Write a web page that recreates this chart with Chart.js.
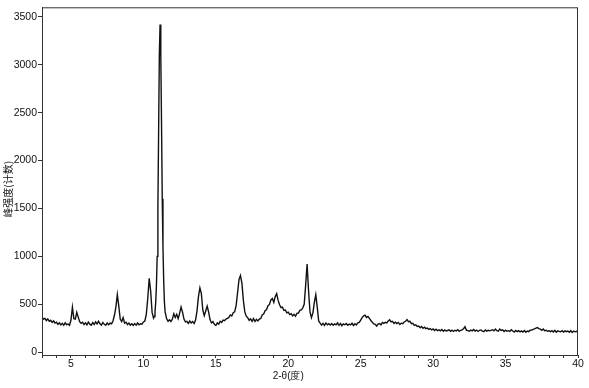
<!DOCTYPE html>
<html><head><meta charset="utf-8">
<script src="https://cdn.jsdelivr.net/npm/chart.js@4/dist/chart.umd.min.js"></script>
<style>html,body{margin:0;padding:0;background:#fff}#wrap{width:589px;height:388px}</style>
</head><body><div id="wrap"><canvas id="c" width="589" height="388"></canvas></div>
<script>
const twoTheta = [
3.0,3.1,3.2,3.3,3.4,3.5,3.6,3.7,3.8,3.9,
4.0,4.1,4.2,4.3,4.4,4.5,4.6,4.7,4.8,4.9,
5.0,5.1,5.2,5.3,5.4,5.5,5.6,5.7,5.8,5.9,
6.0,6.1,6.2,6.3,6.4,6.5,6.6,6.7,6.8,6.9,
7.0,7.1,7.2,7.3,7.4,7.5,7.6,7.7,7.8,7.9,
8.0,8.1,8.2,8.3,8.4,8.5,8.6,8.7,8.8,8.9,
9.0,9.1,9.2,9.3,9.4,9.5,9.6,9.7,9.8,9.9,
10.0,10.1,10.2,10.3,10.4,10.5,10.6,10.7,
10.75,10.8,10.85,10.9,10.95,11.0,11.05,11.1,11.15,11.2,11.25,11.3,11.35,11.4,11.45,11.5,
11.6,11.7,11.8,11.9,
12.0,12.1,12.2,12.3,12.4,12.5,12.6,12.7,12.8,12.9,
13.0,13.1,13.2,13.3,13.4,13.5,13.6,13.7,13.8,13.9,
14.0,14.1,14.2,14.3,14.4,14.5,14.6,14.7,14.8,14.9,
15.0,15.1,15.2,15.3,15.4,15.5,15.6,15.7,15.8,15.9,
16.0,16.1,16.2,16.3,16.4,16.5,16.6,16.7,16.8,16.9,
17.0,17.1,17.2,17.3,17.4,17.5,17.6,17.7,17.8,17.9,
18.0,18.1,18.2,18.3,18.4,18.5,18.6,18.7,18.8,18.9,
19.0,19.1,19.2,19.3,19.4,19.5,19.6,19.7,19.8,19.9,
20.0,20.1,20.2,20.3,20.4,20.5,20.6,20.7,20.8,20.9,
21.0,21.1,21.2,21.3,21.4,21.5,21.6,21.7,21.8,21.9,
22.0,22.1,22.2,22.3,22.4,22.5,22.6,22.7,22.8,22.9,
23.0,23.1,23.2,23.3,23.4,23.5,23.6,23.7,23.8,23.9,
24.0,24.1,24.2,24.3,24.4,24.5,24.6,24.7,24.8,24.9,
25.0,25.1,25.2,25.3,25.4,25.5,25.6,25.7,25.8,25.9,
26.0,26.1,26.2,26.3,26.4,26.5,26.6,26.7,26.8,26.9,
27.0,27.1,27.2,27.3,27.4,27.5,27.6,27.7,27.8,27.9,
28.0,28.1,28.2,28.3,28.4,28.5,28.6,28.7,28.8,28.9,
29.0,29.1,29.2,29.3,29.4,29.5,29.6,29.7,29.8,29.9,
30.0,30.1,30.2,30.3,30.4,30.5,30.6,30.7,30.8,30.9,
31.0,31.1,31.2,31.3,31.4,31.5,31.6,31.7,31.8,31.9,
32.0,32.1,32.2,32.3,32.4,32.5,32.6,32.7,32.8,32.9,
33.0,33.1,33.2,33.3,33.4,33.5,33.6,33.7,33.8,33.9,
34.0,34.1,34.2,34.3,34.4,34.5,34.6,34.7,34.8,34.9,
35.0,35.1,35.2,35.3,35.4,35.5,35.6,35.7,35.8,35.9,
36.0,36.1,36.2,36.3,36.4,36.5,36.6,36.7,36.8,36.9,
37.0,37.1,37.2,37.3,37.4,37.5,37.6,37.7,37.8,37.9,
38.0,38.1,38.2,38.3,38.4,38.5,38.6,38.7,38.8,38.9,
39.0,39.1,39.2,39.3,39.4,39.5,39.6,39.7,39.8,39.9,
40.0
];
const counts = [
368,345,352,330,346,322,332,310,326,304,
312,290,306,284,300,280,306,286,292,280,
335,470,350,345,415,365,318,300,312,288,
306,284,314,292,280,308,288,316,294,322,
296,282,310,290,280,304,286,302,296,325,
385,470,600,480,345,318,360,302,312,288,
304,282,296,278,298,282,304,286,296,292,
315,325,395,560,770,640,415,355,
372,420,520,700,1000,1500,2300,3100,3420,3100,2400,1600,1100,750,520,420,
350,322,338,320,
345,400,362,395,350,405,470,418,345,315,
322,300,325,305,320,298,335,430,580,670,
610,440,380,430,480,420,340,305,318,290,
278,305,292,322,310,335,328,345,352,362,
388,378,412,420,485,620,760,800,720,540,
420,375,360,332,348,322,350,320,342,325,
345,352,388,398,432,445,485,498,545,560,
520,580,610,540,495,465,470,435,440,410,
418,392,402,378,395,375,405,408,436,440,
462,500,700,920,640,420,360,410,520,600,
470,325,302,282,300,278,305,285,296,282,
298,280,294,285,306,280,300,276,295,286,
298,280,292,284,302,278,296,284,305,310,
335,360,378,385,362,372,352,330,312,295,
290,272,292,298,285,310,300,312,306,325,
338,315,322,300,312,298,310,288,302,296,
315,322,340,318,322,298,302,280,285,268,
272,255,268,248,260,246,252,238,246,232,
242,226,240,224,232,222,236,218,232,220,
226,232,218,230,216,228,222,235,218,228,
232,245,265,228,224,218,230,222,236,220,
230,216,228,232,220,214,232,220,228,222,
228,234,222,240,224,218,240,226,232,216,
230,218,224,216,234,220,210,226,214,224,
212,222,210,226,208,220,214,228,230,238,
242,250,256,246,240,228,242,224,228,218,
222,214,224,210,228,208,222,216,212,224,
210,222,214,220,208,224,206,220,212,218,
214
];
const yTickValues = [0,500,1000,1500,2000,2500,3000,3500];
const xMin = 3, xMax = 40, yMin = -30, yMax = 3600;
const xTitle = '2-θ(度)';
const yTitle = '峰强度(计数)';
const xTitleAt = 20;    // title centred under this 2θ value
const yTitleAt = 1700;  // title centred beside this count value

const pts = twoTheta.map((x, i) => ({x: x, y: counts[i]}));
const FONT = '"Liberation Sans", Arial, sans-serif';
const INK = '#111';

const framePlugin = {
  id: 'frame',
  afterDraw(chart) {
    const {ctx, chartArea: a, scales} = chart;
    ctx.save();
    ctx.strokeStyle = '#333';
    ctx.lineWidth = 1;
    ctx.strokeRect(a.left + 0.5, a.top + 0.5, a.right - a.left - 1, a.bottom - a.top);
    ctx.fillStyle = INK;
    ctx.font = '10px ' + FONT;
    ctx.textAlign = 'center';
    ctx.textBaseline = 'middle';
    ctx.fillText(xTitle, scales.x.getPixelForValue(xTitleAt), 376);
    ctx.translate(8, scales.y.getPixelForValue(yTitleAt));
    ctx.rotate(-Math.PI / 2);
    ctx.font = '10px "Noto Sans CJK SC", ' + FONT;
    ctx.fillText(yTitle, 0, 0);
    ctx.restore();
  }
};

new Chart(document.getElementById('c'), {
  type: 'line',
  data: { datasets: [{ data: pts, borderColor: '#111', borderWidth: 1.4, pointRadius: 0, tension: 0, fill: false }] },
  options: {
    responsive: false, animation: false, devicePixelRatio: 1,
    layout: { padding: { top: 6, right: 11, left: 0, bottom: 0 } },
    plugins: { legend: { display: false }, tooltip: { enabled: false } },
    scales: {
      x: {
        type: 'linear', min: xMin, max: xMax,
        afterFit(s) { s.height = 33; },
        grid: { drawOnChartArea: false, drawTicks: true, tickLength: 3, tickColor: '#333' },
        border: { color: '#333' },
        ticks: { stepSize: 1, autoSkip: false, maxRotation: 0, padding: 0, color: INK, font: { size: 10.5, family: FONT },
          callback: v => (v % 5 === 0 ? String(v) : '') }
      },
      y: {
        type: 'linear', min: yMin, max: yMax,
        afterFit(s) { s.width = 42; },
        afterBuildTicks(s) { s.ticks = yTickValues.map(v => ({value: v})); },
        grid: { drawOnChartArea: false, drawTicks: true, tickLength: 4, tickColor: '#333' },
        border: { color: '#333' },
        ticks: { padding: 1, color: INK, font: { size: 10.5, family: FONT }, callback: v => String(v) }
      }
    }
  },
  plugins: [framePlugin]
});
</script></body></html>
